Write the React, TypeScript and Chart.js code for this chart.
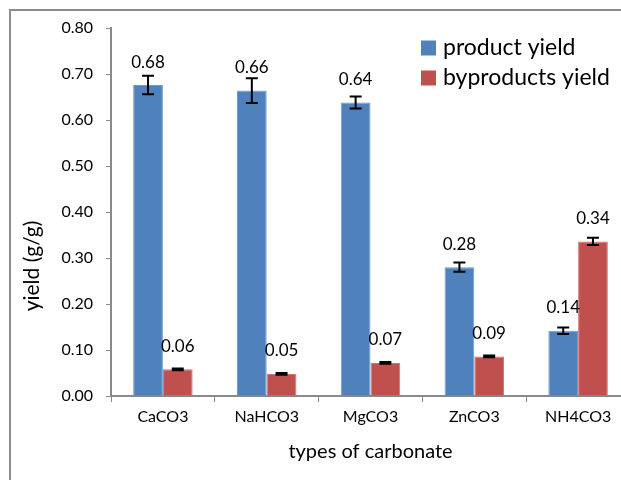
import React, { useEffect, useRef } from "react";
import { Chart, registerables } from "chart.js";

Chart.register(...registerables);

const categories = ["CaCO3", "NaHCO3", "MgCO3", "ZnCO3", "NH4CO3"];
const productYield = [0.676, 0.664, 0.638, 0.28, 0.142];
const productError = [0.02, 0.027, 0.013, 0.01, 0.007];
const byproductYield = [0.058, 0.048, 0.072, 0.086, 0.336];
const byproductError = [0.002, 0.002, 0.002, 0.002, 0.008];
const seriesNames = ["product yield", "byproducts yield"];
const yTicks = [0, 0.1, 0.2, 0.3, 0.4, 0.5, 0.6, 0.7, 0.8];
const yTitle = "yield (g/g)";
const xTitle = "types of carbonate";

const BLUE = "#4F81BD";
const RED = "#C0504D";
const AXIS = "#8a8a8a";
const FONT = "Lato, 'Open Sans', sans-serif";

const errors = [productError, byproductError];

const extrasPlugin = {
  id: "extras",
  beforeDraw(chart: any) {
    const ctx = chart.ctx;
    ctx.save();
    ctx.fillStyle = "#ffffff";
    ctx.fillRect(0, 0, chart.width, chart.height);
    ctx.strokeStyle = "#8c8c8c";
    ctx.lineWidth = 2;
    ctx.strokeRect(10, 10, chart.width + 20, chart.height + 20);
    ctx.restore();
  },
  afterDatasetsDraw(chart: any) {
    const ctx = chart.ctx;
    const y = chart.scales.y;
    ctx.save();
    chart.data.datasets.forEach((ds: any, di: number) => {
      const meta = chart.getDatasetMeta(di);
      meta.data.forEach((el: any, i: number) => {
        const v = ds.data[i];
        const e = errors[di][i];
        const yt = y.getPixelForValue(v + e);
        const yb = y.getPixelForValue(v - e);
        const x = el.x;
        ctx.strokeStyle = "#000";
        ctx.lineWidth = 2;
        ctx.beginPath();
        ctx.moveTo(x, yt);
        ctx.lineTo(x, yb);
        ctx.moveTo(x - 6, yt);
        ctx.lineTo(x + 6, yt);
        ctx.moveTo(x - 6, yb);
        ctx.lineTo(x + 6, yb);
        ctx.stroke();
        ctx.fillStyle = "#000";
        ctx.font = `17px ${FONT}`;
        ctx.textAlign = "center";
        ctx.textBaseline = "middle";
        ctx.fillText(v.toFixed(2), x, el.y - 23);
      });
    });
    ctx.restore();
  },
  afterDraw(chart: any) {
    const ctx = chart.ctx;
    ctx.save();
    const colors = [BLUE, RED];
    const rows = [48, 78];
    seriesNames.forEach((name, i) => {
      ctx.fillStyle = colors[i];
      ctx.fillRect(421, rows[i] - 7.5, 15, 15);
      ctx.fillStyle = "#000";
      ctx.font = `23px ${FONT}`;
      ctx.textAlign = "left";
      ctx.textBaseline = "middle";
      ctx.fillText(name, 443, rows[i]);
    });
    // y-axis title
    ctx.translate(32, 266);
    ctx.rotate(-Math.PI / 2);
    ctx.fillStyle = "#000";
    ctx.font = `21px ${FONT}`;
    ctx.textAlign = "center";
    ctx.textBaseline = "middle";
    ctx.fillText(yTitle, 0, 0);
    ctx.restore();
  },
};

export default function App() {
  const ref = useRef<HTMLCanvasElement | null>(null);
  useEffect(() => {
    if (!ref.current) return;
    const chart = new Chart(ref.current, {
      type: "bar",
      data: {
        labels: categories,
        datasets: [
          {
            label: seriesNames[0],
            data: productYield,
            backgroundColor: BLUE,
            borderColor: "#6f98cb",
            borderWidth: 1,
            categoryPercentage: 0.573,
            barPercentage: 1,
          },
          {
            label: seriesNames[1],
            data: byproductYield,
            backgroundColor: RED,
            borderColor: "#cf7573",
            borderWidth: 1,
            categoryPercentage: 0.573,
            barPercentage: 1,
          },
        ],
      },
      options: {
        responsive: false,
        animation: false,
        devicePixelRatio: 1,
        layout: { padding: { left: 0, top: 28, right: 20, bottom: 20 } },
        plugins: {
          legend: { display: false },
          tooltip: { enabled: false },
        },
        scales: {
          x: {
            afterFit: (s: any) => {
              s.height = 84;
            },
            grid: {
              drawOnChartArea: false,
              drawTicks: true,
              tickLength: 6,
              color: AXIS,
              offset: true,
            },
            border: { display: true, color: AXIS, width: 2 },
            ticks: {
              color: "#000",
              font: { family: FONT, size: 16 },
              padding: 5,
            },
            title: {
              display: true,
              text: xTitle,
              color: "#000",
              font: { family: FONT, size: 20 },
              padding: { top: 0, bottom: 16 },
            },
          },
          y: {
            min: 0,
            max: 0.8,
            afterFit: (s: any) => {
              s.width = 111;
            },
            afterBuildTicks: (s: any) => {
              s.ticks = yTicks.map((v) => ({ value: v }));
            },
            grid: {
              drawOnChartArea: false,
              drawTicks: true,
              tickLength: 5,
              color: AXIS,
            },
            border: { display: true, color: AXIS, width: 2 },
            ticks: {
              color: "#000",
              font: { family: FONT, size: 16 },
              padding: 13,
              callback: (v: any) => Number(v).toFixed(2),
            },
            title: { display: false },
          },
        },
      },
      plugins: [extrasPlugin],
    });
    return () => chart.destroy();
  }, []);

  return (
    <div
      style={{
        position: "fixed",
        left: 0,
        top: 0,
        width: 621,
        height: 480,
        overflow: "hidden",
        background: "#fff",
      }}
    >
      <canvas
        ref={ref}
        width={650}
        height={500}
        style={{ display: "block", width: 650, height: 500 }}
      />
    </div>
  );
}
